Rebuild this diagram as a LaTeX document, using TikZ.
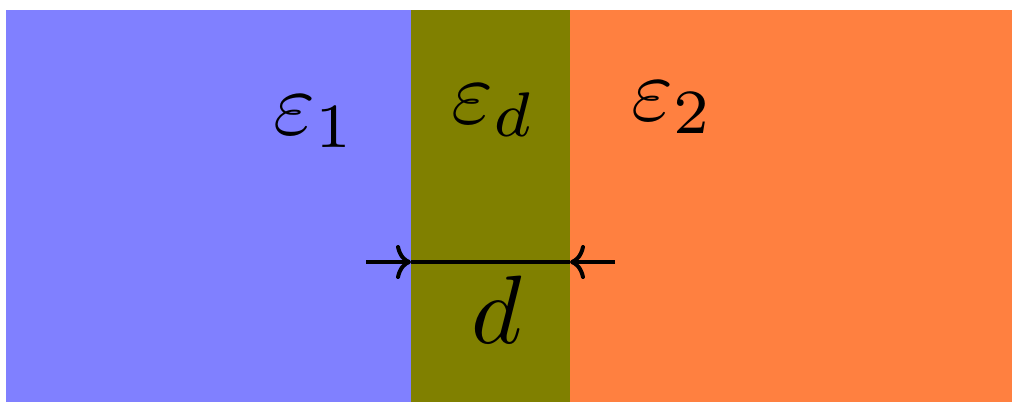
\documentclass[tikz,border=0pt]{standalone}
\usetikzlibrary{arrows.meta}
\definecolor{cblue}{HTML}{8080FF}
\definecolor{colive}{HTML}{808000}
\definecolor{corange}{HTML}{FF8040}
\begin{document}
\begin{tikzpicture}[x=1pt,y=-1pt,
  lbl/.style={inner sep=0pt,anchor=base west,scale=9},
  dimtip/.style={-{Computer Modern Rightarrow[length=15pt,width=34pt]}}]
\useasboundingbox (0,0) rectangle (1012,402);
\fill[cblue] (6,10) rectangle (411,402);
\fill[colive] (411,10) rectangle (570,402);
\fill[corange] (570,10) rectangle (1012,402);
\node[lbl] (e1) at (272,134) {$\varepsilon_1$};
\node[lbl] (ed) at (450,123) {$\varepsilon_d$};
\node[lbl] (e2) at (630,120) {$\varepsilon_2$};
\node[lbl,scale=1.08] (dl) at (470,343) {$d$};
\coordinate (a0) at (366,262);
\coordinate (a1) at (411,262);
\coordinate (b1) at (570,262);
\coordinate (b0) at (615,262);
\draw[line width=4pt] (a1) -- (b1);
\draw[line width=4pt,dimtip] (a0) -- (a1);
\draw[line width=4pt,dimtip] (b0) -- (b1);
\end{tikzpicture}
\end{document}
